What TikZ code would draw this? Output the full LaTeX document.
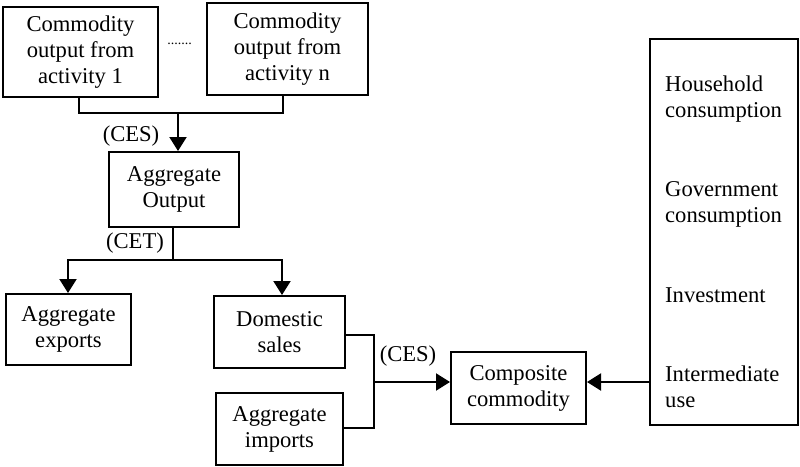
\documentclass[tikz,border=0pt]{standalone}
\usepackage{fontspec}
\setmainfont{Liberation Serif}
\usetikzlibrary{arrows.meta}
\begin{document}
\begin{tikzpicture}[x=1pt,y=-1pt,
  every node/.style={font=\fontsize{22.6}{26}\selectfont},
  box/.style={draw,line width=2pt,align=center,inner sep=0pt},
  lbl/.style={inner sep=0pt},
  conn/.style={line width=2pt},
  arr/.style={line width=2pt,-{Triangle[width=17pt,length=14pt]}}]
\useasboundingbox (0,0) rectangle (800,466);
% boxes
\node[box,minimum width=155pt,minimum height=90pt] (c1) at (80.5,52) {Commodity\\output from\\activity 1};
\node[box,minimum width=161pt,minimum height=92pt] (cn) at (287.5,49) {Commodity\\output from\\activity n};
\node[lbl,font=\fontsize{14}{16}\selectfont] (dots) at (179.5,44) {.......};
\node[box,minimum width=130pt,minimum height=75pt] (agg) at (174,189.5) {Aggregate\\Output};
\node[box,minimum width=125pt,minimum height=71pt] (exp) at (68.5,329.5) {Aggregate\\exports};
\node[box,minimum width=131pt,minimum height=72pt] (dom) at (279.5,332) {Domestic\\sales};
\node[box,minimum width=127pt,minimum height=72pt] (imp) at (279.5,429) {Aggregate\\imports};
\node[box,minimum width=135pt,minimum height=72pt] (comp) at (518.5,388) {Composite\\commodity};
\node[box,minimum width=148pt,minimum height=386pt] (uses) at (724,232) {};
% texts in the uses box
\node[lbl,anchor=west,align=left] (hh) at (665,99.5) {Household\\consumption};
\node[lbl,anchor=west,align=left] (gov) at (665,204) {Government\\consumption};
\node[lbl,anchor=west,align=left] (inv) at (665,295) {Investment};
\node[lbl,anchor=west,align=left] (int) at (665,386.5) {Intermediate\\use};
% labels
\node[lbl] (ces1) at (131,136) {(CES)};
\node[lbl] (cet) at (135,243) {(CET)};
\node[lbl] (ces2) at (408,356) {(CES)};
% junctions
\coordinate (j1) at (178,113);
\coordinate (j2) at (173,260);
\coordinate (j3) at (374,382);
% connectors
\draw[conn] ([xshift=-1.5pt]c1.south) |- (j1) -| ([xshift=-4.5pt]cn.south);
\draw[arr] (j1) -- (j1 |- agg.north);
\draw[conn] (agg.south -| j2) -- (j2);
\draw[arr] (j2) -| ([xshift=-0.5pt]exp.north);
\draw[arr] (j2) -| ([xshift=2.5pt]dom.north);
\draw[conn] ([yshift=-3pt]dom.east) -| (j3) |- ([yshift=1pt]imp.east);
\draw[arr] (j3) -- (comp.west |- j3);
\draw[arr] (uses.west |- j3) -- (comp.east |- j3);
\end{tikzpicture}
\end{document}
